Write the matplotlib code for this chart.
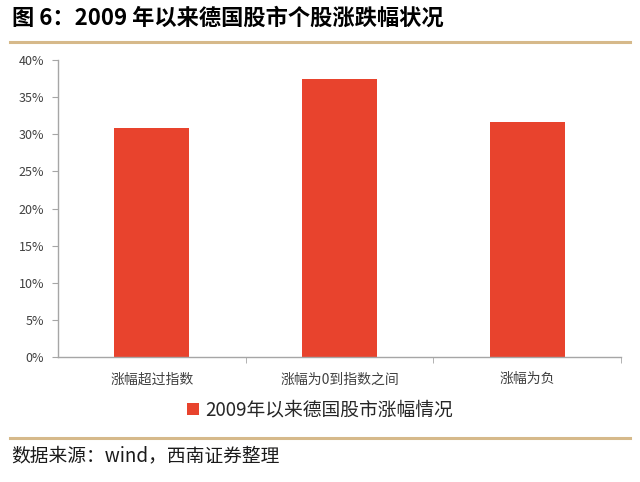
import numpy as np
import matplotlib
matplotlib.use("Agg")
from matplotlib import pyplot as plt
from matplotlib.ticker import FuncFormatter, FixedLocator

plt.rcParams['font.family'] = ['Noto Sans CJK SC', 'DejaVu Sans']

# Data
categories = ["涨幅超过指数", "涨幅为0到指数之间", "涨幅为负"]
values = [0.309, 0.374, 0.316]
series_name = "2009年以来德国股市涨幅情况"
title = "图 6：2009 年以来德国股市个股涨跌幅状况"
source = "数据来源：wind，西南证券整理"

bar_color = "#e8432d"
axis_color = "#a6a6a6"
line_color = "#d6b98a"

fig = plt.figure(figsize=(6.4, 4.82), dpi=100)
ax = fig.add_axes([0.0906, 0.2593, 0.880, 0.6162])

x = np.arange(len(categories))
ax.bar(x, values, width=0.4, color=bar_color, label=series_name)

ax.set_xlim(-0.5, len(categories) - 0.5)
ax.set_ylim(0, 0.40)
ax.set_yticks(np.arange(0, 0.401, 0.05))
ax.yaxis.set_major_formatter(FuncFormatter(lambda v, p: f"{v * 100:.0f}%"))
ax.set_xticks(x)
ax.set_xticklabels(categories)
ax.xaxis.set_minor_locator(FixedLocator([0.5, 1.5, 2.5]))

for s in ["top", "right"]:
    ax.spines[s].set_visible(False)
for s in ["left", "bottom"]:
    ax.spines[s].set_color(axis_color)
    ax.spines[s].set_linewidth(1.0)

ax.tick_params(axis="y", length=4, color=axis_color, labelsize=9, labelcolor="#404040", pad=6)
ax.tick_params(axis="x", which="major", length=0, labelsize=10, labelcolor="#404040", pad=11)
ax.tick_params(axis="x", which="minor", length=4, color=axis_color)

leg = fig.legend(loc="center", frameon=False, fontsize=13.5,
                 handlelength=0.65, handleheight=0.65, handletextpad=0.35)
leg.set_bbox_to_anchor((0.5, 1 - 410 / 482), transform=fig.transFigure)
for t in leg.get_texts():
    t.set_color("#262626")

# Title and decorative lines
fig.text(0.018, 1 - 18 / 482, title, fontsize=16, fontweight="bold", va="center", ha="left")
fig.add_artist(plt.Line2D([0.015, 0.985], [1 - 42 / 482] * 2, color=line_color, lw=2.2,
                          transform=fig.transFigure))
fig.add_artist(plt.Line2D([0.015, 0.985], [1 - 438 / 482] * 2, color=line_color, lw=2.2,
                          transform=fig.transFigure))
fig.text(0.018, 1 - 456 / 482, source, fontsize=13.5, style="italic", va="center", ha="left",
         color="#1a1a1a")

fig.savefig("out.png", dpi=100)
